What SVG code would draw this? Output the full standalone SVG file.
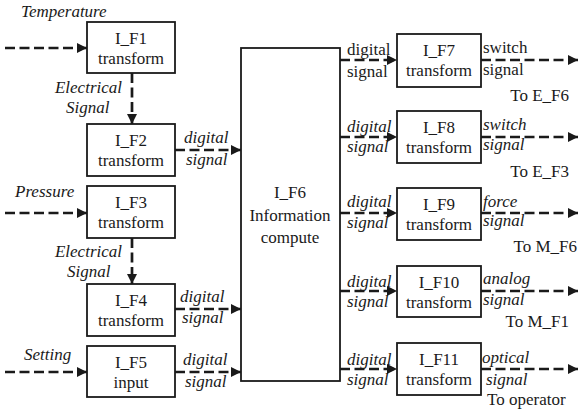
<svg xmlns="http://www.w3.org/2000/svg" width="583" height="414" viewBox="0 0 583 414" font-family="Liberation Serif, Times New Roman, serif">
<style>
.box{fill:#fff;stroke:#1a1a1a;stroke-width:1.8}
.t{font-size:17px;fill:#1a1a1a}
.c{text-anchor:middle}
.i{font-style:italic}
.e{text-anchor:end}
.d{fill:none;stroke:#1a1a1a;stroke-width:2.7;stroke-dasharray:10 4.5;marker-end:url(#ah)}
</style>
<defs>
<marker id="ah" markerUnits="userSpaceOnUse" markerWidth="12" markerHeight="12" refX="10" refY="5" orient="auto">
<path d="M0,0 L10,5 L0,10 Z" fill="#1a1a1a"/>
</marker>
</defs>
<rect width="583" height="414" fill="#fff"/>
<g id="connectors">
<path class="d" d="M5,48 H87"/>
<path class="d" d="M132,73 V124"/>
<path class="d" d="M175,150 H241"/>
<path class="d" d="M5,213 H87"/>
<path class="d" d="M132,238 V284"/>
<path class="d" d="M175,309 H241"/>
<path class="d" d="M5,372 H87"/>
<path class="d" d="M175,372 H241"/>
<path class="d" d="M340,60 H397"/>
<path class="d" d="M340,137 H397"/>
<path class="d" d="M340,213 H397"/>
<path class="d" d="M340,291 H397"/>
<path class="d" d="M340,369 H397"/>
<path class="d" d="M481,60 H578"/>
<path class="d" d="M481,137 H578"/>
<path class="d" d="M481,213 H578"/>
<path class="d" d="M481,291 H578"/>
<path class="d" d="M481,369 H578"/>
</g>
<g id="labels">
<text class="t i" x="21" y="17">Temperature</text>
<text class="t i e" x="122" y="93">Electrical</text>
<text class="t i" x="66" y="113">Signal</text>
<text class="t i" x="184" y="143">digital</text>
<text class="t i" x="186" y="165">signal</text>
<text class="t i" x="15" y="197">Pressure</text>
<text class="t i e" x="122" y="257">Electrical</text>
<text class="t i" x="67" y="277">Signal</text>
<text class="t i" x="180" y="302">digital</text>
<text class="t i" x="182" y="323">signal</text>
<text class="t i" x="24" y="360">Setting</text>
<text class="t i" x="183" y="365">digital</text>
<text class="t i" x="185" y="387">signal</text>
<text class="t" x="347" y="55">digital</text>
<text class="t" x="347" y="77">signal</text>
<text class="t" x="483" y="53">switch</text>
<text class="t" x="483" y="75">signal</text>
<text class="t e" x="569" y="101">To E_F6</text>
<text class="t i" x="347" y="132">digital</text>
<text class="t i" x="347" y="152">signal</text>
<text class="t i" x="483" y="130">switch</text>
<text class="t i" x="483" y="150">signal</text>
<text class="t e" x="569" y="177">To E_F3</text>
<text class="t i" x="347" y="207">digital</text>
<text class="t i" x="347" y="228">signal</text>
<text class="t i" x="483" y="207">force</text>
<text class="t i" x="483" y="226">signal</text>
<text class="t e" x="577" y="252">To M_F6</text>
<text class="t i" x="347" y="287">digital</text>
<text class="t i" x="347" y="307">signal</text>
<text class="t i" x="483" y="284">analog</text>
<text class="t i" x="483" y="305">signal</text>
<text class="t e" x="569" y="327">To M_F1</text>
<text class="t i" x="347" y="365">digital</text>
<text class="t i" x="347" y="385">signal</text>
<text class="t i" x="482" y="363">optical</text>
<text class="t i" x="486" y="385">signal</text>
<text class="t" x="487" y="405">To operator</text>
</g>
<g id="I_F1"><rect class="box" x="87" y="22" width="88" height="51"/><text class="t c" x="131" y="44">I_F1</text><text class="t c" x="131" y="64">transform</text></g>
<g id="I_F2"><rect class="box" x="87" y="124" width="88" height="52"/><text class="t c" x="131" y="146">I_F2</text><text class="t c" x="131" y="166">transform</text></g>
<g id="I_F3"><rect class="box" x="87" y="186" width="88" height="52"/><text class="t c" x="131" y="208">I_F3</text><text class="t c" x="131" y="228">transform</text></g>
<g id="I_F4"><rect class="box" x="87" y="284" width="88" height="52"/><text class="t c" x="131" y="306">I_F4</text><text class="t c" x="131" y="326">transform</text></g>
<g id="I_F5"><rect class="box" x="87" y="346" width="88" height="51"/><text class="t c" x="131" y="368">I_F5</text><text class="t c" x="131" y="388">input</text></g>
<g id="I_F6"><rect class="box" x="241" y="48" width="99" height="333"/><text class="t c" x="290" y="198">I_F6</text><text class="t c" x="290" y="221">Information</text><text class="t c" x="290" y="243">compute</text></g>
<g id="I_F7"><rect class="box" x="397" y="34" width="84" height="53"/><text class="t c" x="439" y="56">I_F7</text><text class="t c" x="439" y="76">transform</text></g>
<g id="I_F8"><rect class="box" x="397" y="111" width="84" height="52"/><text class="t c" x="439" y="133">I_F8</text><text class="t c" x="439" y="153">transform</text></g>
<g id="I_F9"><rect class="box" x="397" y="188" width="84" height="52"/><text class="t c" x="439" y="210">I_F9</text><text class="t c" x="439" y="230">transform</text></g>
<g id="I_F10"><rect class="box" x="397" y="266" width="84" height="51"/><text class="t c" x="439" y="288">I_F10</text><text class="t c" x="439" y="308">transform</text></g>
<g id="I_F11"><rect class="box" x="397" y="343" width="84" height="52"/><text class="t c" x="439" y="365">I_F11</text><text class="t c" x="439" y="385">transform</text></g>
</svg>
